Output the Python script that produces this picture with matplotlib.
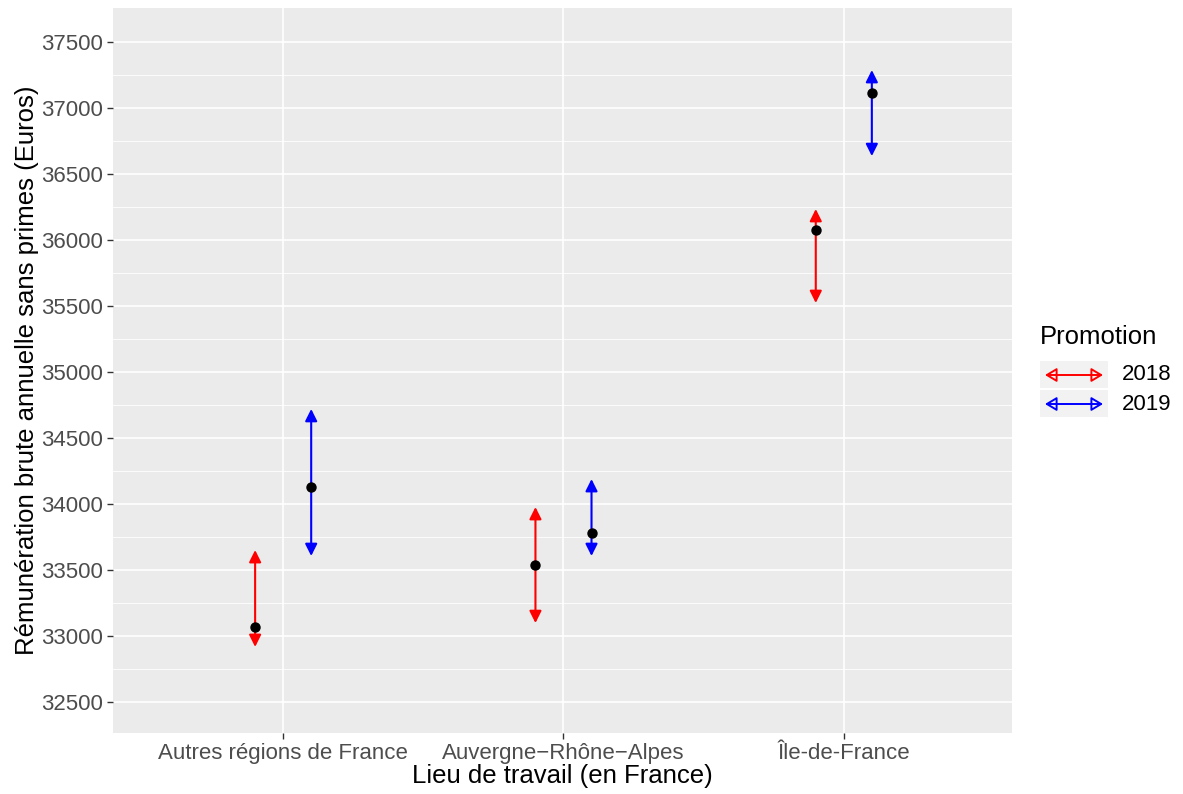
from matplotlib import pyplot as plt
from matplotlib.patches import FancyArrowPatch, Rectangle
import numpy as np

plt.rcParams['font.family'] = ['Liberation Sans', 'DejaVu Sans']

# data
lieux = ["Autres régions de France", "Auvergne\u2212Rhône\u2212Alpes", "Île-de-France"]
promos = ["2018", "2019"]
couleurs = ["red", "blue"]

moy_2018 = [33068, 33538, 36076]
bas_2018 = [32917, 33098, 35523]
haut_2018 = [33651, 33977, 36235]

moy_2019 = [34129, 33780, 37114]
bas_2019 = [33606, 33606, 36636]
haut_2019 = [34720, 34189, 37288]

series = [(moy_2018, bas_2018, haut_2018), (moy_2019, bas_2019, haut_2019)]

fig = plt.figure(figsize=(11.83, 7.94), dpi=100)
ax = fig.add_axes([113/1183, 1 - 733/794, (1012-113)/1183, (733-8)/794])
ax.set_facecolor('#EBEBEB')
for s in ax.spines.values():
    s.set_visible(False)

x = np.arange(1, len(lieux) + 1)
decal = [-0.1, 0.1]

for i, (moy, bas, haut) in enumerate(series):
    xs = x + decal[i]
    for xi, lo, hi in zip(xs, bas, haut):
        ax.annotate('', xy=(xi, hi), xytext=(xi, lo),
                    arrowprops=dict(arrowstyle='<|-|>,head_length=0.6,head_width=0.3',
                                    color=couleurs[i], lw=1.5,
                                    shrinkA=0, shrinkB=0, mutation_scale=12))
    ax.scatter(xs, moy, color='black', s=42, zorder=5)

ax.set_xlim(0.393, 3.6)
ax.set_ylim(32265, 37758)

yt = np.arange(32500, 37501, 500)
ax.set_yticks(yt)
ax.set_yticks(np.arange(32750, 37251, 500), minor=True)
ax.set_xticks(x)
ax.set_xticklabels(lieux)
ax.set_yticklabels([str(v) for v in yt])
ax.tick_params(axis='both', which='major', labelsize=16, labelcolor='#4D4D4D',
               color='#333333', length=4, width=1, pad=3)
ax.tick_params(axis='y', which='minor', length=0)
ax.grid(True, which='major', color='white', lw=1.2)
ax.grid(True, which='minor', axis='y', color='white', lw=0.6)
ax.set_axisbelow(True)

ax.set_xlabel('Lieu de travail (en France)', fontsize=18.5, labelpad=0)
ax.set_ylabel('Rémunération brute annuelle sans primes (Euros)', fontsize=18.5, labelpad=2)

# legend drawn by hand, ggplot style
fig.text(1040/1183, 1 - 337/794, 'Promotion', fontsize=18.5, va='center', ha='left')
for i, p in enumerate(promos):
    yc = 1 - (375 + 29*i)/794
    fig.add_artist(Rectangle((1040/1183, yc - 13/794), 68/1183, 27/794,
                             transform=fig.transFigure, color='#F2F2F2', lw=0))
    fig.add_artist(FancyArrowPatch((1045/1183, yc), (1103/1183, yc),
                                   transform=fig.transFigure,
                                   arrowstyle='<|-|>,head_length=0.5,head_width=0.3',
                                   color=couleurs[i], lw=1.4, fill=False,
                                   shrinkA=0, shrinkB=0, mutation_scale=14))
    fig.text(1122/1183, yc, p, fontsize=16, va='center', ha='left')

fig.savefig('out.png', dpi=100)
